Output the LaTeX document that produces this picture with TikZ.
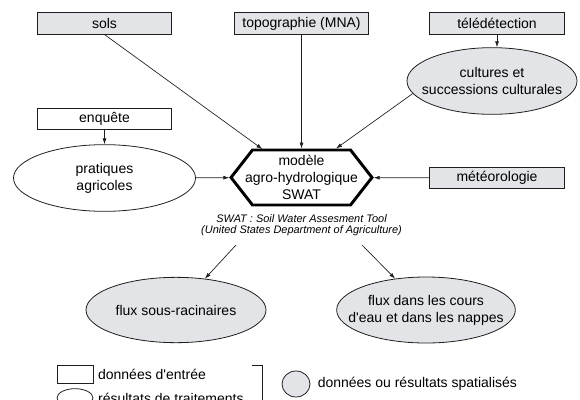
\documentclass[tikz,border=0pt]{standalone}
\usepackage{fontspec}
\setmainfont{Liberation Sans}
\usepackage{tikz}
\usetikzlibrary{shapes, arrows.meta, positioning, calc}
\usepackage{xcolor}
\definecolor{SpatialGray}{RGB}{226, 228, 231}
\definecolor{LineColor}{RGB}{30, 30, 30}

\begin{document}
\begin{tikzpicture}[x=0.75pt, y=-0.75pt,
    font=\fontsize{10.5}{12.6}\selectfont,
    databox/.style={draw=LineColor, line width=0.6pt, minimum width=101pt, minimum height=16pt, inner sep=0pt},
    spatial/.style={fill=SpatialGray},
    result/.style={ellipse, draw=LineColor, line width=0.6pt, inner sep=0pt},
    link/.style={-{Latex[length=4.5pt, width=3pt]}, line width=0.5pt, draw=LineColor}]
    \useasboundingbox (0,0) rectangle (580,399);

    % input data
    \node[databox, spatial] (sols) at (104.5,23.5) {sols};
    \node[databox, spatial] (topo) at (301.5,23.5) {topographie (MNA)};
    \node[databox, spatial] (teledet) at (497,23.5) {télédétection};
    \node[databox] (enquete) at (104.5,119) {enquête};
    \node[databox, spatial] (meteo) at (497,178) {météorologie};

    % processed data
    \node[result, spatial, minimum width=127.5pt, minimum height=50pt] (cultures) at (492,81) {};
    \node[align=center] at (cultures) {cultures et\\successions culturales};
    \node[result, minimum width=136.5pt, minimum height=50pt] (pratiques) at (104.5,178) {};
    \node[align=center] at (pratiques) {pratiques\\agricoles};

    % model
    \node[signal, signal to=east and west, signal pointer angle=104, draw=black, line width=2.2pt,
          minimum width=105.75pt, minimum height=41.25pt, inner sep=0pt, fill=white] (swat) at (301.5,177.5) {};
    \node[align=center] at (swat) {modèle\\agro-hydrologique\\SWAT};
    \node[align=center, font=\fontsize{8.2}{8.6}\selectfont\itshape] (note) at (301.5,225)
        {SWAT : Soil Water Assesment Tool\\(United States Department of Agriculture)};

    % outputs
    \node[result, spatial, minimum width=135pt, minimum height=49pt] (racin) at (176,310) {};
    \node at (racin) {flux sous-racinaires};
    \node[result, spatial, minimum width=134pt, minimum height=49.5pt] (cours) at (426,310) {};
    \node[align=center] at (cours) {flux dans les cours\\d\textquotesingle eau et dans les nappes};

    \draw[link] (sols.south) -- (swat);
    \draw[link] (topo) -- (swat);
    \draw[link] (cultures.189) -- (swat.40);
    \draw[link] (teledet.south) -- (teledet.south |- cultures.north);
    \draw[link] (enquete) -- (pratiques);
    \draw[link] (pratiques) -- (swat);
    \draw[link] (meteo) -- (swat);
    \coordinate (n1) at (236,245);
    \coordinate (n2) at (362,245);
    \draw[link] (n1) -- (racin);
    \draw[link] (n2) -- (cours);

    % legend
    \node[draw=LineColor, line width=0.6pt, minimum width=27pt, minimum height=13.5pt, inner sep=0pt] (legbox) at (75,374) {};
    \node[right=0pt of legbox] {données d\textquotesingle entrée};
    \node[result, minimum width=27pt, minimum height=14pt] (legell) at (75,398) {};
    \node[right=0pt of legell] {résultats de traitements};
    \draw[LineColor, line width=0.6pt] (252,365) -- (262,365) -- (262,405);
    \node[result, spatial, minimum width=21pt, minimum height=19.5pt] (legcirc) at (296,384) {};
    \node[right=2pt of legcirc] {données ou résultats spatialisés};
\end{tikzpicture}
\end{document}
